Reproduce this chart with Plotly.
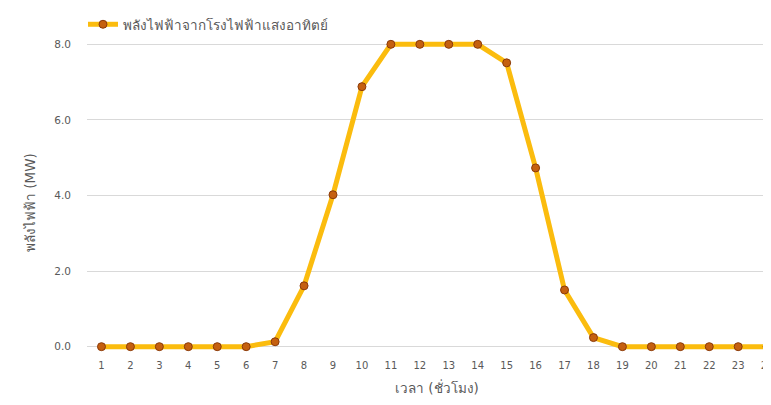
import plotly.graph_objects as go

hours = [str(h) for h in range(1, 25)]
power_mw = [0, 0, 0, 0, 0, 0, 0.13, 1.61, 4.02, 6.88, 8.0, 8.0, 8.0, 8.0, 7.51, 4.73,
            1.5, 0.24, 0, 0, 0, 0, 0, 0]
y_ticks = [0, 2, 4, 6, 8]
y_labels = ["0.0", "2.0", "4.0", "6.0", "8.0"]

series_name = "พลังไฟฟ้าจากโรงไฟฟ้าแสงอาทิตย์"
x_title = "เวลา (ชั่วโมง)"
y_title = "พลังไฟฟ้า (MW)"

fig = go.Figure()
fig.add_trace(go.Scatter(
    x=hours, y=power_mw, name=series_name, mode="lines+markers",
    line=dict(color="#FBBC0E", width=5),
    marker=dict(size=8, color="#C5600F", line=dict(color="#8A3A0A", width=1)),
    cliponaxis=False,
))

# page has an 8px body margin, so the margins are shifted to compensate
txt = "#595959"
plot_h = 405 - 25 - 55
plot_w = 771 - 79
fig.update_layout(
    width=771, height=405,
    margin=dict(l=79, r=0, t=25, b=55, autoexpand=False),
    paper_bgcolor="white", plot_bgcolor="white",
    font=dict(family="DejaVu Sans, Noto Sans", color=txt, size=10),
    showlegend=True,
    legend=dict(orientation="h", x=-4 / plot_w, xanchor="left", y=1 + 24 / plot_h,
                yanchor="top", font=dict(size=13.5, color=txt), itemwidth=30),
    xaxis=dict(type="category", range=[-0.5, 23.41], showgrid=False, zeroline=False,
               showline=False, ticks="", automargin=False,
               tickfont=dict(size=10, color=txt)),
    yaxis=dict(range=[-0.3, 8.3], tickvals=y_ticks, ticktext=y_labels, automargin=False,
               showgrid=True, gridcolor="#D9D9D9", gridwidth=1, zeroline=False,
               showline=False, ticks="", ticklabelstandoff=15,
               tickfont=dict(size=10.5, color=txt)),
    annotations=[
        dict(text=x_title, xref="paper", yref="paper", x=(437 - 87) / plot_w, y=-29 / plot_h,
             xanchor="center", yanchor="middle", showarrow=False,
             font=dict(size=13.5, color=txt)),
        dict(text=y_title, xref="paper", yref="paper", x=(30 - 87) / plot_w,
             y=(358 - 203) / plot_h, xanchor="center", yanchor="middle",
             textangle=-90, showarrow=False, font=dict(size=13.5, color=txt)),
    ],
)

fig.write_html("out.html")
